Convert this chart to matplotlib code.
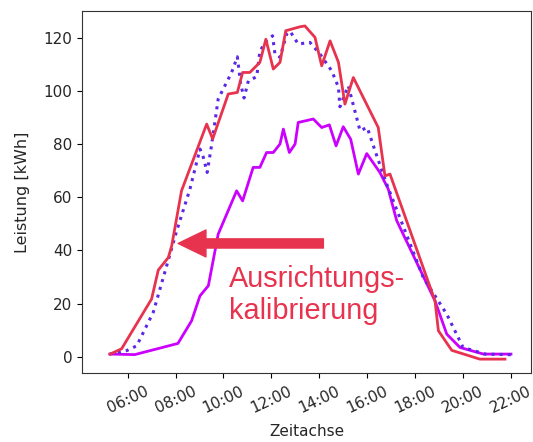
"""Leistungskurven vor und nach der Ausrichtungskalibrierung."""

import matplotlib as mpl
import matplotlib.pyplot as plt

mpl.use("Agg")

# Nach der Kalibrierung (rot, durchgezogen)
red_hours = [5.27, 5.75, 7.0, 7.28, 7.7, 7.84, 8.25, 9.30, 9.55, 10.2, 10.58,
             10.80, 11.1, 11.52, 11.77, 12.08, 12.36, 12.6, 13.2, 13.4, 13.82,
             14.1, 14.45, 14.8, 15.07, 15.42, 16.46, 16.74, 16.95, 18.83,
             18.97, 19.53, 20.7, 21.75]
red_values = [1.0, 3.0, 21.7, 32.6, 37.3, 41.7, 62.4, 87.5, 81.9, 98.8, 99.4,
              106.9, 106.9, 110.7, 119.4, 108.2, 110.7, 122.6, 124.1, 124.4,
              120.1, 109.4, 118.8, 110.7, 95.0, 105.0, 86.2, 68.0, 68.7, 21.0,
              9.8, 2.4, -0.9, -0.9]

# Vor der Kalibrierung (violett, durchgezogen)
purple_hours = [5.26, 6.3, 8.1, 8.67, 9.02, 9.37, 9.78, 10.55, 10.8, 11.24,
                11.52, 11.8, 12.08, 12.36, 12.5, 12.75, 12.99, 13.12, 13.75,
                14.1, 14.42, 14.7, 15.0, 15.31, 15.63, 15.98, 16.53, 16.88,
                17.23, 18.83, 19.32, 19.87, 20.85, 22.0]
purple_values = [1.0, 0.8, 5.0, 13.5, 22.9, 26.7, 46.1, 62.4, 58.6, 71.2,
                 71.2, 76.8, 76.8, 80.0, 85.6, 76.8, 80.0, 88.1, 89.4, 86.2,
                 87.2, 79.3, 86.5, 81.8, 68.7, 76.4, 69.3, 63.0, 51.2, 21.0,
                 8.5, 3.5, 1.0, 1.0]

# Referenz (blau, gepunktet)
ref_hours = [5.26, 5.96, 6.38, 7.07, 7.63, 8.05, 8.6, 9.02, 9.16, 9.32, 9.5,
             9.78, 10.34, 10.58, 10.72, 10.86, 11.04, 11.39, 11.52, 11.8,
             12.05, 12.15, 12.36, 12.64, 12.78, 13.12, 13.61, 14.03, 14.52,
             14.8, 14.86, 15.21, 15.7, 16.0, 16.42, 16.81, 17.44, 18.34,
             19.32, 20.0, 20.92, 22.03]
ref_values = [1.0, 2.3, 4.1, 16.7, 34.2, 47.4, 63.0, 78.1, 75.0, 69.3, 79.3,
              96.9, 106.9, 112.8, 102.5, 97.3, 103.8, 105.3, 115.0, 118.8,
              120.7, 113.8, 112.6, 121.4, 122.4, 117.6, 118.2, 113.8, 107.5,
              101.3, 94.0, 101.9, 85.0, 86.2, 75.0, 65.0, 50.5, 29.8, 16.0,
              3.5, 1.0, 0.75]

tick_hours = list(range(6, 23, 2))
tick_labels = [f"{h:02d}:00" for h in tick_hours]

RED = "#e8334f"
PURPLE = "#cc00ff"
BLUE = "#5a28e6"

figure = plt.figure(figsize=(5.33, 4.42), dpi=100)
axes = figure.add_axes([0.154, 0.155, 0.842, 0.82])

axes.plot(purple_hours, purple_values, color=PURPLE, linewidth=2.0)
axes.plot(ref_hours, ref_values, color=BLUE, linewidth=2.2, linestyle=":")
axes.plot(red_hours, red_values, color=RED, linewidth=2.0)

axes.set_xlim(4.1, 22.83)
axes.set_ylim(-6.3, 130)
axes.set_xticks(tick_hours)
axes.set_xticklabels(tick_labels, rotation=25, ha="center")
axes.tick_params(labelsize=11, labelcolor="#262626")
for spine in axes.spines.values():
    spine.set_color("#333333")

axes.set_xlabel("Zeitachse", fontsize=11, color="#262626", labelpad=6)
axes.set_ylabel("Leistung [kWh]", fontsize=11.5, color="#262626",
                labelpad=10)

# Pfeil und Beschriftung
axes.annotate(
    "",
    xy=(8.11, 42.6),
    xytext=(14.17, 42.6),
    arrowprops=dict(
        arrowstyle="simple,head_length=1.0,head_width=0.97,tail_width=0.33",
        color=RED,
        shrinkA=0,
        shrinkB=0,
        mutation_scale=20,
    ),
)
axes.text(
    10.24, 34.5, "Ausrichtungs-\nkalibrierung",
    color=RED, fontsize=20.8, family="Liberation Sans",
    ha="left", va="top", linespacing=1.2,
)

figure.savefig("out.png", dpi=100)
plt.close(figure)
